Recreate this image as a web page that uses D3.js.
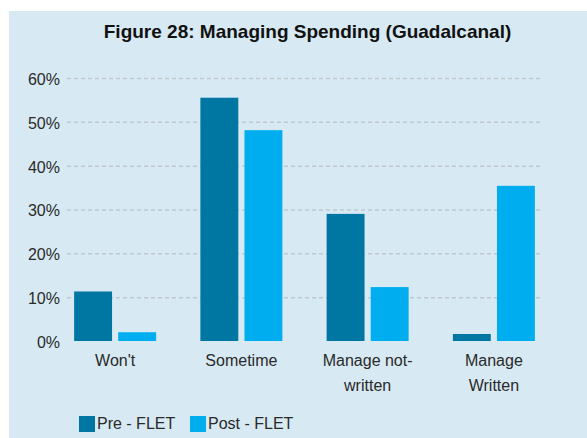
<!DOCTYPE html>
<html>
<head>
<meta charset="utf-8">
<script src="https://cdn.jsdelivr.net/npm/d3@7"></script>
<style>
  body { margin: 0; background: #fff; }
  text { font-family: "Liberation Sans", Arial, sans-serif; }
</style>
</head>
<body>
<div id="wrapper"></div>
<script>
// data
const categories = ["Won't", "Sometime", "Manage not-written", "Manage Written"];
const categoryLines = [["Won't"], ["Sometime"], ["Manage not-", "written"], ["Manage", "Written"]];
const seriesNames = ["Pre - FLET", "Post - FLET"];
const preValues = [11.3, 55.5, 29.0, 1.6];
const postValues = [2.0, 48.1, 12.3, 35.4];
const yTicks = [0, 10, 20, 30, 40, 50, 60];

const colors = ["#0076a3", "#00aeef"];

// 1. dimensions
const dimensions = {
  width: 587,
  height: 438,
  panel: { x: 9, y: 11 },
  plotLeft: 67,
  plotRight: 542,
  zeroY: 341,
  topY: 78,
}

const wrapper = d3.select("#wrapper")
  .append("svg")
    .attr("width", dimensions.width)
    .attr("height", dimensions.height)

wrapper.append("rect")
  .attr("x", dimensions.panel.x)
  .attr("y", dimensions.panel.y)
  .attr("width", dimensions.width - dimensions.panel.x)
  .attr("height", dimensions.height - dimensions.panel.y)
  .attr("fill", "#d7e9f3")

wrapper.append("text")
  .attr("x", 307.5)
  .attr("y", 38)
  .attr("text-anchor", "middle")
  .style("font-size", "19px")
  .style("font-weight", "bold")
  .attr("fill", "#111")
  .text("Figure 28: Managing Spending (Guadalcanal)")

// 2. scales
const yScale = d3.scaleLinear()
  .domain([0, 60])
  .range([dimensions.zeroY, dimensions.topY])

const xScale = d3.scaleBand()
  .domain(categories)
  .range([52, 557])

const innerScale = d3.scaleBand()
  .domain(seriesNames)
  .range([-41, 41])
  .paddingInner(0.14)

// 3. gridlines + y axis
const yAxisGenerator = d3.axisLeft(yScale)
  .tickValues(yTicks)
  .tickSizeInner(-(dimensions.plotRight - dimensions.plotLeft))
  .tickSizeOuter(0)
  .tickPadding(7)
  .tickFormat(d => d + "%")

const yAxis = wrapper.append("g")
  .attr("transform", `translate(${dimensions.plotLeft},0)`)
  .call(yAxisGenerator)

yAxis.select(".domain").remove()
yAxis.selectAll("line")
  .attr("stroke", "#bfc9cf")
  .attr("stroke-width", 1.5)
  .attr("stroke-dasharray", "4,3")
yAxis.selectAll("line").filter(d => d === 0).remove()
yAxis.selectAll("text")
  .style("font-size", "16px")
  .attr("fill", "#2a2a2a")
  .attr("dy", "0.4em")

// 4. bars
const rows = categories.map((c, i) => ({ category: c, values: [preValues[i], postValues[i]] }))

const groups = wrapper.selectAll("g.group")
  .data(rows)
  .enter().append("g")
    .attr("class", "group")
    .attr("transform", d => `translate(${xScale(d.category) + xScale.bandwidth() / 2},0)`)

groups.selectAll("rect")
  .data(d => d.values.map((v, j) => ({ series: seriesNames[j], value: v, color: colors[j] })))
  .enter().append("rect")
    .attr("x", d => innerScale(d.series))
    .attr("y", d => yScale(d.value))
    .attr("width", innerScale.bandwidth())
    .attr("height", d => yScale(0) - yScale(d.value))
    .attr("fill", d => d.color)

// 5. category labels
groups.each(function(d, i) {
  const g = d3.select(this)
  categoryLines[i].forEach((line, k) => {
    g.append("text")
      .attr("x", 0)
      .attr("y", 366 + k * 25)
      .attr("text-anchor", "middle")
      .style("font-size", "16px")
      .attr("fill", "#2a2a2a")
      .text(line)
  })
})

// 6. legend
const legendX = [79, 190]
const legend = wrapper.selectAll("g.legend")
  .data(seriesNames)
  .enter().append("g")
    .attr("class", "legend")
    .attr("transform", (d, i) => `translate(${legendX[i]},416)`)

legend.append("rect")
  .attr("width", 16)
  .attr("height", 16)
  .attr("fill", (d, i) => colors[i])

legend.append("text")
  .attr("x", 18)
  .attr("y", 12.5)
  .style("font-size", "16px")
  .attr("fill", "#2a2a2a")
  .text(d => d)
</script>
</body>
</html>
